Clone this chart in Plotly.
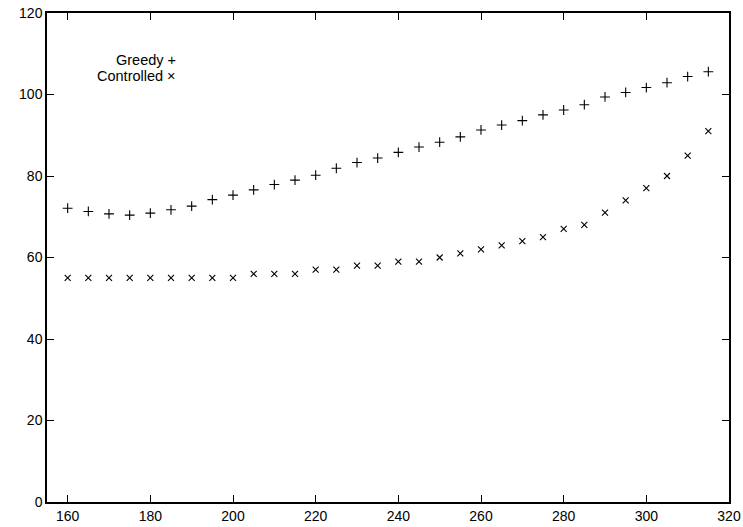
import plotly.graph_objects as go

x_vals = [160, 165, 170, 175, 180, 185, 190, 195, 200, 205, 210, 215, 220, 225, 230, 235,
          240, 245, 250, 255, 260, 265, 270, 275, 280, 285, 290, 295, 300, 305, 310, 315]
greedy = [72.1, 71.3, 70.7, 70.4, 70.9, 71.7, 72.6, 74.2, 75.3, 76.6, 77.9, 79.0, 80.2, 81.9,
          83.3, 84.4, 85.8, 87.1, 88.3, 89.6, 91.3, 92.5, 93.6, 95.0, 96.2, 97.5, 99.4, 100.5,
          101.7, 102.9, 104.4, 105.6]
controlled = [55, 55, 55, 55, 55, 55, 55, 55, 55, 56, 56, 56, 57, 57, 58, 58,
              59, 59, 60, 61, 62, 63, 64, 65, 67, 68, 71, 74, 77, 80, 85, 91]
x_ticks = [160, 180, 200, 220, 240, 260, 280, 300, 320]
y_ticks = [0, 20, 40, 60, 80, 100, 120]

FONT = "Liberation Sans, Arial, Helvetica, sans-serif"

fig = go.Figure()
fig.add_trace(go.Scatter(
    x=x_vals, y=greedy, mode="markers", name="Greedy",
    marker=dict(symbol="cross-thin", size=7, color="black",
                line=dict(color="black", width=1.1)),
))
fig.add_trace(go.Scatter(
    x=x_vals, y=controlled, mode="markers", name="Controlled",
    marker=dict(symbol="x-thin", size=6, color="black",
                line=dict(color="black", width=1.1)),
))

axis_common = dict(
    showline=True, linecolor="black", linewidth=1.5, mirror="ticks",
    ticks="inside", ticklen=7, tickwidth=1, tickcolor="black",
    showgrid=False, zeroline=False, automargin=False,
    ticklabeloverflow="allow",
    tickfont=dict(family=FONT, size=14, color="black"),
)

fig.update_xaxes(range=[155, 320], tickvals=x_ticks, ticktext=[str(v) for v in x_ticks],
                 **axis_common)
fig.update_yaxes(range=[0, 120], tickvals=y_ticks, ticktext=[str(v) for v in y_ticks],
                 **axis_common)

fig.add_annotation(x=0.192, y=0.903, xref="paper", yref="paper", xanchor="right",
                   yanchor="middle", showarrow=False, text="Greedy +",
                   font=dict(family=FONT, size=14.5, color="black"))
fig.add_annotation(x=0.192, y=0.871, xref="paper", yref="paper", xanchor="right",
                   yanchor="middle", showarrow=False, text="Controlled \u00d7",
                   font=dict(family=FONT, size=14.5, color="black"))

fig.update_layout(
    width=743, height=527,
    margin=dict(l=47, r=14, t=13, b=25, pad=0),
    paper_bgcolor="white", plot_bgcolor="white",
    showlegend=False,
    font=dict(family=FONT, color="black"),
)

fig.write_html("out.html",
               config={"displayModeBar": False},
               post_script="document.body.style.margin='0';document.body.style.padding='0';")
